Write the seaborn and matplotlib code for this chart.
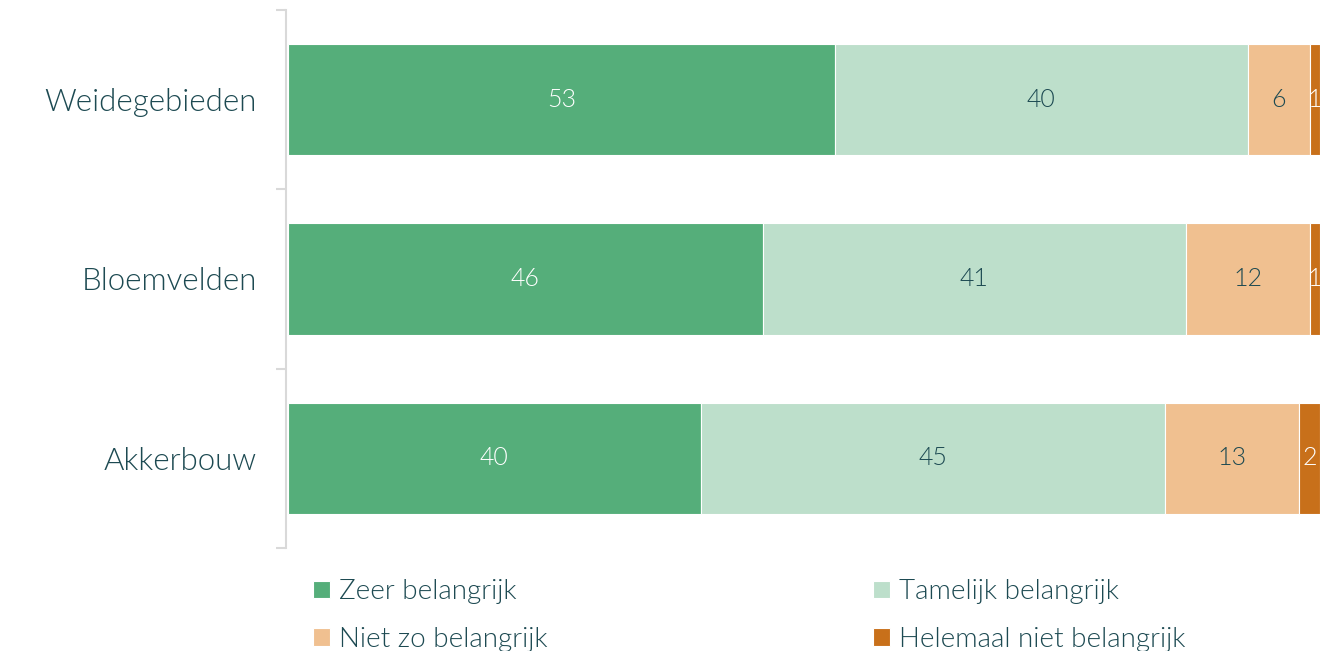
import numpy as np
import pandas as pd
import matplotlib.pyplot as plt
import seaborn as sns

# values (percent per area)
gebieden = ["Weidegebieden", "Bloemvelden", "Akkerbouw"]
antwoorden = ["Zeer belangrijk", "Tamelijk belangrijk",
              "Niet zo belangrijk", "Helemaal niet belangrijk"]
zeer      = [53, 46, 40]
tamelijk  = [40, 41, 45]
niet_zo   = [6, 12, 13]
helemaal  = [1, 1, 2]

kleuren     = ["#55ae7a", "#bddfcb", "#f0c090", "#c8701a"]
label_kleur = ["white", "#1d4a52", "#1d4a52", "white"]
TEKST = "#1d4a52"
GRIJS = "#d9d9d9"

sns.set_theme(style="white")
plt.rcParams["font.family"] = ["Lato", "DejaVu Sans"]
plt.rcParams["font.weight"] = 300

df = pd.DataFrame({"gebied": gebieden, antwoorden[0]: zeer,
                   antwoorden[1]: tamelijk, antwoorden[2]: niet_zo,
                   antwoorden[3]: helemaal})

fig = plt.figure(figsize=(13.29, 6.51), dpi=100)
ax = fig.add_axes([288 / 1329, 1 - 548 / 651, 1032 / 1329, 538 / 651])

links = np.zeros(len(gebieden))
for naam, kleur, lk in zip(antwoorden, kleuren, label_kleur):
    waarden = df[naam].to_numpy(dtype=float)
    sns.barplot(data=df, x=naam, y="gebied", order=gebieden, left=links,
                color=kleur, width=0.62, edgecolor="white", linewidth=0.8,
                saturation=1, label=naam, ax=ax)
    for i, v in enumerate(waarden):
        ax.text(links[i] + v / 2, i, f"{v:.0f}", ha="center", va="center",
                color=lk, fontsize=18, fontweight=300)
    links += waarden

ax.set_xlim(0, 100)
ax.set_ylim(2.5, -0.5)
ax.set_xlabel("")
ax.set_ylabel("")
ax.set_xticks([])

# ticks between the categories, labels centered on the bars
ax.set_yticks([-0.5, 0.5, 1.5, 2.5])
ax.set_yticklabels([])
ax.set_yticks(range(len(gebieden)), minor=True)
ax.set_yticklabels(gebieden, minor=True)
ax.tick_params(axis="y", which="major", left=True, length=7, width=1.5,
               color=GRIJS)
ax.tick_params(axis="y", which="minor", left=True, length=0, pad=21,
               labelsize=22.5, labelcolor=TEKST)

for s in ["top", "right", "bottom"]:
    ax.spines[s].set_visible(False)
ax.spines["left"].set_color(GRIJS)
ax.spines["left"].set_linewidth(1.5)
ax.spines["left"].set_position(("outward", 1.5))

handles, labels = ax.get_legend_handles_labels()
volgorde = [0, 2, 1, 3]
ax.legend([handles[i] for i in volgorde], [labels[i] for i in volgorde],
          ncol=2, loc="upper left", bbox_to_anchor=(0.0, -0.012),
          frameon=False, labelcolor=TEKST,
          handlelength=0.6, handleheight=0.6, handletextpad=0.35,
          columnspacing=11.7, labelspacing=0.8,
          prop={"weight": 300, "size": 20})

fig.savefig("out.png", dpi=100)
